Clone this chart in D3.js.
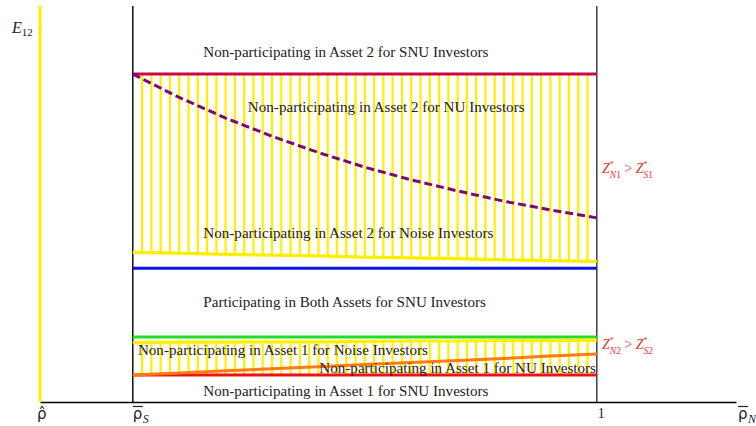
<!DOCTYPE html>
<html><head><meta charset="utf-8">
<script src="https://cdn.jsdelivr.net/npm/d3@7"></script>
<style>body{margin:0;background:#fff}svg{display:block}</style>
</head><body>
<script>
// ---- data ----
const tickVals = [-0.2, 0, 1, 1.3];           // rho_hat, rho_bar_S, 1, rho_bar_N
const rhoGrid = [0, 0.1, 0.2, 0.3, 0.4, 0.5, 0.6, 0.7, 0.8, 0.9, 1];
const topLine = [8.28, 8.28, 8.28, 8.28, 8.28, 8.28, 8.28, 8.28, 8.28, 8.28, 8.28];
const nuAsset2 = [8.28, 7.69, 7.17, 6.71, 6.30, 5.93, 5.61, 5.33, 5.07, 4.85, 4.65];
const noiseAsset2 = [3.78, 3.76, 3.73, 3.71, 3.69, 3.66, 3.64, 3.62, 3.59, 3.57, 3.55];
const blueLine = [3.38, 3.38, 3.38, 3.38, 3.38, 3.38, 3.38, 3.38, 3.38, 3.38, 3.38];
const greenLine = [1.64, 1.64, 1.64, 1.64, 1.64, 1.64, 1.64, 1.64, 1.64, 1.64, 1.64];
const noiseAsset1 = [1.50, 1.51, 1.51, 1.52, 1.52, 1.53, 1.54, 1.54, 1.55, 1.55, 1.56];
const nuAsset1 = [0.68, 0.73, 0.79, 0.84, 0.89, 0.95, 1.00, 1.05, 1.10, 1.16, 1.21];
const redLine = [0.68, 0.68, 0.68, 0.68, 0.68, 0.68, 0.68, 0.68, 0.68, 0.68, 0.68];
const regionLabels = [
  "Non-participating in Asset 2 for SNU Investors",
  "Non-participating in Asset 2 for NU Investors",
  "Non-participating in Asset 2 for Noise Investors",
  "Participating in Both Assets for SNU Investors",
  "Non-participating in Asset 1 for Noise Investors",
  "Non-participating in Asset 1 for NU Investors",
  "Non-participating in Asset 1 for SNU Investors"
];
// [rho of left edge, E12 of baseline]
const labelPos = [[0.152, 8.72], [0.248, 7.33], [0.152, 4.15], [0.152, 2.40], [0.011, 1.19], [0.402, 0.74], [0.152, 0.14]];

const W = 756, H = 426;
const SERIF = "'Liberation Serif', 'Times New Roman', Times, serif";
const svg = d3.select("body").append("svg").attr("width", W).attr("height", H);
const x = d3.scaleLinear().domain([-0.2, 1.3]).range([40, 736]);
const y = d3.scaleLinear().domain([0, 10]).range([402, 6]);

const interp = arr => r => {
  const i = Math.min(rhoGrid.length - 2, Math.floor(r * 10));
  const t = (r - rhoGrid[i]) / (rhoGrid[i + 1] - rhoGrid[i]);
  return arr[i] + t * (arr[i + 1] - arr[i]);
};

// hatch lines
const hatch = d3.range(1, 50).map(i => i / 50);
const hatchG = svg.append("g").attr("stroke", "#ffee00").attr("stroke-width", 2.2);
hatchG.selectAll("line.h1").data(hatch).join("line")
  .attr("x1", d => x(d)).attr("x2", d => x(d))
  .attr("y1", d => y(interp(topLine)(d))).attr("y2", d => y(interp(noiseAsset2)(d)));
hatchG.selectAll("line.h2").data(hatch).join("line")
  .attr("x1", d => x(d)).attr("x2", d => x(d))
  .attr("y1", d => y(interp(noiseAsset1)(d))).attr("y2", d => y(interp(redLine)(d)));

// axis
const xAxis = d3.axisBottom(x).tickValues(tickVals).tickFormat("").tickSize(0).tickSizeOuter(0);
svg.append("g").attr("transform", `translate(0,${y(0)})`).call(xAxis)
  .select(".domain").attr("stroke", "#000").attr("stroke-width", 1.3);

// vertical lines
svg.append("line").attr("x1", x(-0.2)).attr("x2", x(-0.2)).attr("y1", y(10)).attr("y2", y(0))
  .attr("stroke", "#ffee00").attr("stroke-width", 3);
[0, 1].forEach(v => svg.append("line").attr("x1", x(v)).attr("x2", x(v)).attr("y1", y(10)).attr("y2", y(0))
  .attr("stroke", v === 0 ? "#000" : "#333").attr("stroke-width", 1.4));

const line = arr => d3.line().x((d, i) => x(rhoGrid[i])).y(d => y(d))(arr);
const draw = (arr, color, w, dash) => svg.append("path").attr("d", line(arr)).attr("fill", "none")
  .attr("stroke", color).attr("stroke-width", w).attr("stroke-dasharray", dash || null);

draw(noiseAsset2, "#ffee00", 3.2);
draw(blueLine, "#0a14e6", 3);
draw(greenLine, "#22dd22", 3);
draw(noiseAsset1, "#ffee00", 3.2);
draw(redLine, "#ee1111", 3);
draw(nuAsset1, "#ff7a10", 3);
draw(topLine, "#c8074a", 3);
draw(nuAsset2, "#7a0a78", 3, "8,4");

// region labels
svg.append("g").selectAll("text").data(regionLabels).join("text")
  .attr("x", (d, i) => x(labelPos[i][0])).attr("y", (d, i) => y(labelPos[i][1]))
  .attr("font-family", SERIF).attr("font-size", 15.1).attr("fill", "#222")
  .text(d => d);

// math labels
function zlab(xp, yp, a, b) {
  const t = svg.append("text").attr("x", xp).attr("y", yp).attr("fill", "#ee3333")
    .attr("font-family", SERIF).attr("font-size", 14);
  t.append("tspan").attr("font-style", "italic").text("Z");
  t.append("tspan").attr("font-size", 8).attr("dy", -6).text("*");
  t.append("tspan").attr("font-size", 9.5).attr("dx", -4).attr("dy", 10.5).attr("font-style", "italic").text("N");
  t.append("tspan").attr("font-size", 9.5).text(a);
  t.append("tspan").attr("dy", -4.5).text(" > ");
  t.append("tspan").attr("font-style", "italic").text("Z");
  t.append("tspan").attr("font-size", 8).attr("dy", -6).text("*");
  t.append("tspan").attr("font-size", 9.5).attr("dx", -4).attr("dy", 10.5).attr("font-style", "italic").text("S");
  t.append("tspan").attr("font-size", 9.5).text(b);
}
zlab(602, 173, "1", "1");
zlab(602, 349, "2", "2");

// E12
const e = svg.append("text").attr("x", 12).attr("y", 33).attr("font-family", SERIF)
  .attr("font-size", 16).attr("fill", "#222");
e.append("tspan").attr("font-style", "italic").text("E");
e.append("tspan").attr("font-size", 11).attr("dy", 3).text("12");

// tick labels
const tl = svg.append("g").attr("font-family", "'DejaVu Sans', sans-serif").attr("fill", "#222");
function rho(xp, hat, sub) {
  tl.append("text").attr("x", xp).attr("y", 419).attr("font-size", 15).text(hat ? "\u03C1\u0302" : "\u03C1");
  if (!hat) tl.append("line").attr("x1", xp).attr("x2", xp + 10).attr("y1", 406.5).attr("y2", 406.5)
    .attr("stroke", "#222").attr("stroke-width", 1.2);
  if (sub) tl.append("text").attr("x", xp + 10).attr("y", 423).attr("font-size", 12)
    .attr("font-family", SERIF).attr("font-style", "italic").text(sub);
}
rho(x(-0.2) - 3, true, null);
rho(x(0), false, "S");
rho(x(1.3) + 2, false, "N");
tl.append("text").attr("x", x(1) + 1).attr("y", 418).attr("font-family", SERIF)
  .attr("font-size", 14).text("1");
</script>
</body></html>
